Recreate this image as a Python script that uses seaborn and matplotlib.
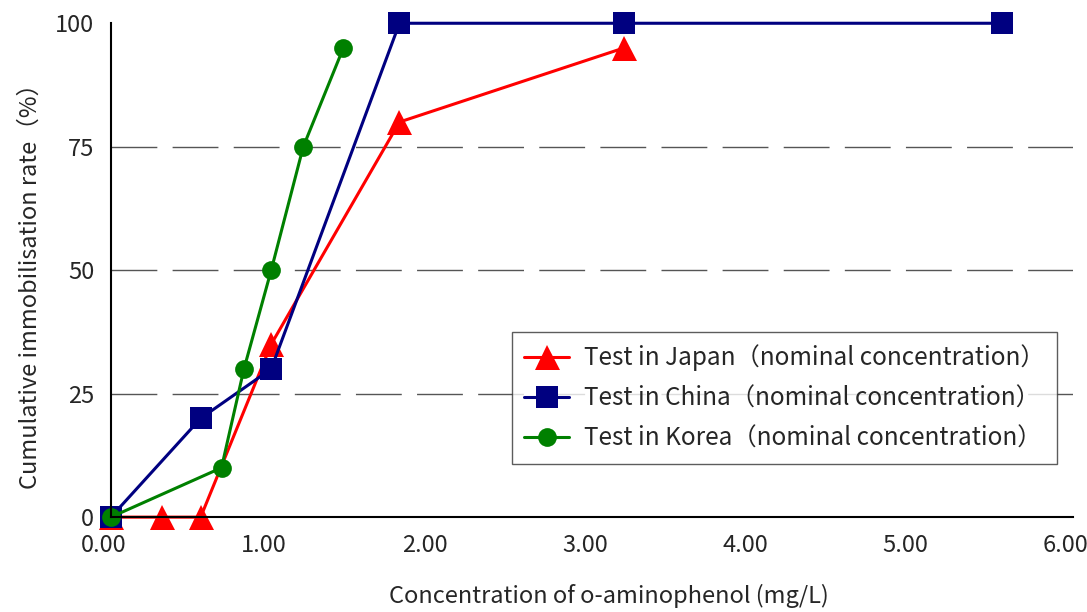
import pandas as pd
import seaborn as sns
import matplotlib.pyplot as plt
import matplotlib.transforms as mtransforms

# concentration (mg/L) and cumulative immobilisation rate (%)
japan_x = [0.0, 0.32, 0.56, 1.0, 1.8, 3.2]
japan_y = [0, 0, 0, 35, 80, 95]
china_x = [0.0, 0.56, 1.0, 1.8, 3.2, 5.56]
china_y = [0, 20, 30, 100, 100, 100]
korea_x = [0.0, 0.69, 0.83, 1.0, 1.2, 1.45]
korea_y = [0, 10, 30, 50, 75, 95]

series_names = ["Test in Japan（nominal concentration）",
                "Test in China（nominal concentration）",
                "Test in Korea（nominal concentration）"]
x_ticks = [0, 1, 2, 3, 4, 5, 6]
y_ticks = [0, 25, 50, 75, 100]
grid_levels = [25, 50, 75]


def build_frame():
    frames = []
    for name, xs, ys in zip(series_names, [japan_x, china_x, korea_x], [japan_y, china_y, korea_y]):
        frames.append(pd.DataFrame({"conc": xs, "rate": ys, "test": name}))
    return pd.concat(frames, ignore_index=True)


def plot_chart(df, outpath):
    sns.set_style("white")
    plt.rcParams['font.family'] = ['Noto Sans CJK JP', 'DejaVu Sans']

    fig = plt.figure(figsize=(10.87, 6.12), dpi=100)
    ax = fig.add_axes([0.102, 0.155, 0.885, 0.807])

    for y in grid_levels:
        ax.axhline(y, color='#555555', linewidth=1.0, dashes=(33, 11), zorder=0)

    styles = {
        series_names[0]: dict(color='#ff0000', marker='^', markersize=18),
        series_names[1]: dict(color='#000080', marker='s', markersize=16),
        series_names[2]: dict(color='#008000', marker='o', markersize=13.5),
    }
    for name in series_names:
        st = styles[name]
        sns.lineplot(data=df[df["test"] == name], x="conc", y="rate", ax=ax,
                     color=st['color'], marker=st['marker'], markersize=st['markersize'],
                     markeredgewidth=0, linewidth=2.2, label=name, clip_on=False,
                     estimator=None, sort=False)

    ax.set_xlim(0, 6)
    ax.set_ylim(0, 100)
    ax.set_xticks(x_ticks)
    ax.set_xticklabels([f"{v:.2f}" for v in x_ticks])
    ax.set_yticks(y_ticks)
    ax.tick_params(direction='in', length=6, width=1.2, labelsize=17, color='black')
    ax.tick_params(axis='y', pad=12)
    ax.tick_params(axis='x', pad=12)
    shift = mtransforms.ScaledTranslation(-7 / 100, 0, fig.dpi_scale_trans)
    for lbl in ax.get_xticklabels():
        lbl.set_transform(lbl.get_transform() + shift)
    for side in ['top', 'right']:
        ax.spines[side].set_visible(False)
    for side in ['left', 'bottom']:
        ax.spines[side].set_color('black')
        ax.spines[side].set_linewidth(1.5)

    ax.set_xlabel('Concentration of o-aminophenol (mg/L)', fontsize=17)
    ax.xaxis.set_label_coords(0.518, -0.135)
    ax.set_ylabel('Cumulative immobilisation rate（%）', fontsize=17)
    ax.yaxis.set_label_coords(-0.072, 0.48)

    leg = ax.legend(loc='lower right', bbox_to_anchor=(0.983, 0.108), fontsize=17.5,
                    frameon=True, fancybox=False, edgecolor='#333333',
                    handlelength=1.85, handletextpad=0.6, borderpad=0.5,
                    labelspacing=0.58, borderaxespad=0)
    leg.get_frame().set_linewidth(1.0)

    fig.savefig(outpath, dpi=100)


def main():
    df = build_frame()
    plot_chart(df, "out.png")


if __name__ == "__main__":
    main()
